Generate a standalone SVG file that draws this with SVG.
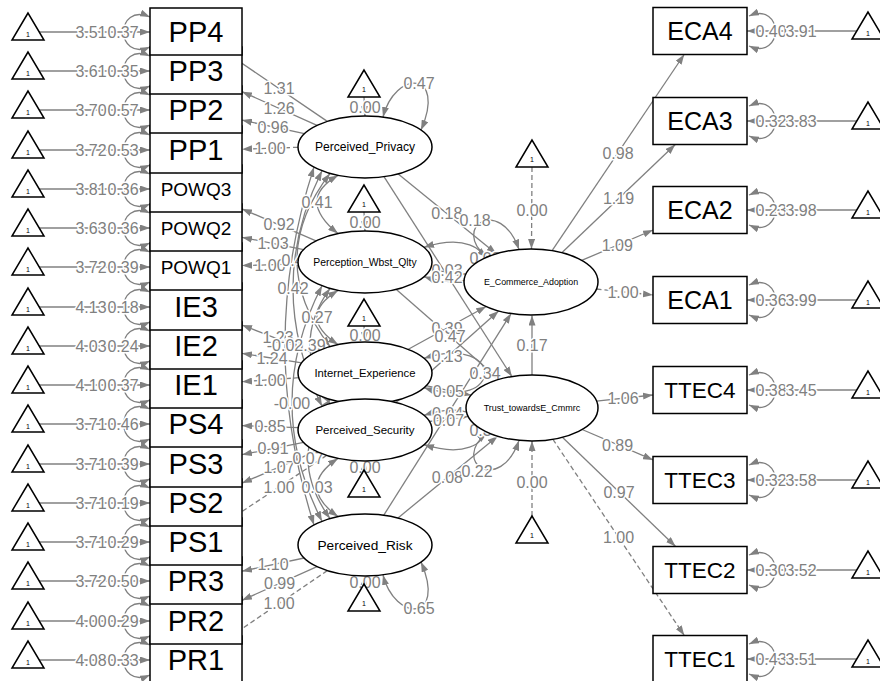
<svg xmlns="http://www.w3.org/2000/svg" xmlns:xlink="http://www.w3.org/1999/xlink" width="880" height="681" viewBox="0 0 880 681">
<style>
.e{fill:none;stroke:#808080;stroke-width:1.3}
.a{marker-end:url(#ah)}
.b2{marker-start:url(#ah);marker-end:url(#ah)}
.d{stroke-dasharray:5,3}
.l{font-family:"Liberation Sans",Arial,sans-serif;font-size:16px;fill:#808080;text-anchor:middle;dominant-baseline:central;paint-order:stroke;stroke:#fff;stroke-width:3px;stroke-linejoin:round}
.box{fill:#fff;stroke:#000;stroke-width:1.5}
.tri{fill:#fff;stroke:#000;stroke-width:1.5}
.t{font-family:"Liberation Sans",Arial,sans-serif;fill:#000;text-anchor:middle;dominant-baseline:central}
.one{font-family:"Liberation Sans",Arial,sans-serif;font-size:7px;fill:#000;text-anchor:middle;dominant-baseline:central}
.big{font-size:29px}.med{font-size:19px}.eca{font-size:25px}.tt{font-size:22.5px}
</style>
<defs>
<marker id="ah" viewBox="0 0 10 7" refX="10" refY="3.5" markerWidth="10" markerHeight="7" markerUnits="userSpaceOnUse" orient="auto-start-reverse"><path d="M0,0L10,3.5L0,7z" fill="#808080"/></marker>
<g id="triL"><polygon class="tri" points="28,-19 12,8 44,8"/><text class="one" x="28" y="2">1</text></g>
<g id="triR"><polygon class="tri" points="868,-19 852,8 884,8"/><text class="one" x="868" y="2">1</text></g>
<g id="triM"><polygon class="tri" points="0,0 -16,27 16,27"/><text class="one" x="0" y="19">1</text></g>
<g id="mvL"><path class="e a" d="M39,0H150"/><path class="e b2" d="M150,-15C115,-30 115,30 150,15"/></g>
<g id="mvR"><path class="e a" d="M857,0H747"/><path class="e b2" d="M749,-15C784,-30 784,30 749,15"/></g>
</defs>

<g id="connectors">
<use href="#mvL" y="32"/><use href="#mvL" y="71"/><use href="#mvL" y="110"/><use href="#mvL" y="150"/>
<use href="#mvL" y="189"/><use href="#mvL" y="228"/><use href="#mvL" y="267"/><use href="#mvL" y="307"/>
<use href="#mvL" y="346"/><use href="#mvL" y="385"/><use href="#mvL" y="424"/><use href="#mvL" y="464"/>
<use href="#mvL" y="503"/><use href="#mvL" y="542"/><use href="#mvL" y="581"/><use href="#mvL" y="621"/>
<use href="#mvL" y="660"/>
<use href="#mvR" y="31"/><use href="#mvR" y="121"/><use href="#mvR" y="210"/><use href="#mvR" y="300"/>
<use href="#mvR" y="390"/><use href="#mvR" y="480"/><use href="#mvR" y="570"/><use href="#mvR" y="659"/>

<path class="e a" d="M327.3,121.4L230.5,55.5"/>
<path class="e a" d="M317,125.4L242,91.7"/>
<path class="e a" d="M304.4,133.7L242,120.1"/>
<path class="e a d" d="M298,147.3L242,149.2"/>
<path class="e a" d="M316,240.8L242,208.9"/>
<path class="e a" d="M303.6,249.6L242,237.3"/>
<path class="e a d" d="M298.1,264L242,265.6"/>
<path class="e a" d="M313.8,353L242,325"/>
<path class="e a" d="M301.7,362.9L242,353.3"/>
<path class="e a d" d="M298.8,377.7L242,381.7"/>
<path class="e a" d="M298.1,427.6L242,425.6"/>
<path class="e a" d="M303.6,442.4L242,454.7"/>
<path class="e a" d="M316,451.2L242,483.1"/>
<path class="e a d" d="M326.6,455.4L231.5,518.5"/>
<path class="e a" d="M304.1,558L242,571.2"/>
<path class="e a" d="M317,566.6L242,600.3"/>
<path class="e a d" d="M327.3,570.6L230.5,636.5"/>

<path class="e a" d="M552.1,250.7L684.2,54.5"/>
<path class="e a" d="M561.8,252.7L675.3,144.5"/>
<path class="e a" d="M581.7,260.4L653,230"/>
<path class="e a d" d="M596.5,289L653,295"/>
<path class="e a" d="M596.5,401.1L653,395"/>
<path class="e a" d="M582.1,429.5L653,459.9"/>
<path class="e a" d="M562.4,437.3L675.6,546.5"/>
<path class="e a d" d="M552.9,439.3L684.3,635.5"/>

<path class="e a" d="M397.3,173.3L496.3,253.8"/>
<path class="e a" d="M383.5,175.8L511.9,376.6"/>
<path class="e a" d="M429.7,269.8L465.9,274.2"/>
<path class="e a" d="M395.5,288.7L499.2,379.4"/>
<path class="e a" d="M407.4,349.8L486.2,306.5"/>
<path class="e a" d="M425.7,385.7L471.1,395.2"/>
<path class="e a" d="M395.1,403.2L498.6,310.9"/>
<path class="e a" d="M429.3,421.5L468.2,416.4"/>
<path class="e a" d="M383.2,516.1L511.1,313.5"/>
<path class="e a" d="M397.1,518.7L497.6,436.2"/>
<path class="e a" d="M532,375L532,315.5"/>

<path class="e a d" d="M364,97L365,116"/>
<path class="e a d" d="M364,212L365,231"/>
<path class="e a d" d="M364,326L365,342"/>
<path class="e a d" d="M364,470L365,461"/>
<path class="e a d" d="M364,584L365,576"/>
<path class="e a d" d="M532,167L531.5,249"/>
<path class="e a d" d="M532,516L532,441"/>

<path class="e b2" d="M383,117C395,70 447,70 421,130"/>
<path class="e b2" d="M383,575C395,622 447,622 421,562"/>
<path class="e b2" d="M424,247.3C505,222 505,302 424,276.7"/>
<path class="e b2" d="M424,358.3C505,333 505,413 424,387.7"/>
<path class="e b2" d="M424,415.3C505,390 505,470 424,444.7"/>
<path class="e b2" d="M487,257C450,228 500,195 519,249.5"/>
<path class="e b2" d="M487,433C450,462 500,495 519,440.5"/>

<path class="e b2" d="M338,175.4Q296,199.5 338,233.6"/>
<path class="e b2" d="M338,290.4Q296,316.5 338,344.6"/>
<path class="e b2" d="M338,458.4Q296,486.5 338,516.6"/>
<path class="e b2" d="M330,173.4Q264,260 330,346.6"/>
<path class="e b2" d="M330,288.4Q290,344 330,403.6"/>
<path class="e b2" d="M330,399.4Q286,457 330,518.6"/>
<path class="e b2" d="M322,170.8Q264,287.5 322,406.2"/>
<path class="e b2" d="M322,285.8Q262,402.5 322,521.2"/>
<path class="e b2" d="M314,167.1Q256,344 314,524.9"/>
</g>

<g id="edge-labels">
<text class="l" x="91" y="32">3.51</text><text class="l" x="123" y="32">0.37</text>
<text class="l" x="91" y="71">3.61</text><text class="l" x="123" y="71">0.35</text>
<text class="l" x="91" y="110">3.70</text><text class="l" x="123" y="110">0.57</text>
<text class="l" x="91" y="150">3.72</text><text class="l" x="123" y="150">0.53</text>
<text class="l" x="91" y="189">3.81</text><text class="l" x="123" y="189">0.36</text>
<text class="l" x="91" y="228">3.63</text><text class="l" x="123" y="228">0.36</text>
<text class="l" x="91" y="267">3.72</text><text class="l" x="123" y="267">0.39</text>
<text class="l" x="91" y="307">4.13</text><text class="l" x="123" y="307">0.18</text>
<text class="l" x="91" y="346">4.03</text><text class="l" x="123" y="346">0.24</text>
<text class="l" x="91" y="385">4.10</text><text class="l" x="123" y="385">0.37</text>
<text class="l" x="91" y="424">3.71</text><text class="l" x="123" y="424">0.46</text>
<text class="l" x="91" y="464">3.71</text><text class="l" x="123" y="464">0.39</text>
<text class="l" x="91" y="503">3.71</text><text class="l" x="123" y="503">0.19</text>
<text class="l" x="91" y="542">3.71</text><text class="l" x="123" y="542">0.29</text>
<text class="l" x="91" y="581">3.72</text><text class="l" x="123" y="581">0.50</text>
<text class="l" x="91" y="621">4.00</text><text class="l" x="123" y="621">0.29</text>
<text class="l" x="91" y="660">4.08</text><text class="l" x="123" y="660">0.33</text>

<text class="l" x="771" y="31">0.40</text><text class="l" x="801" y="31">3.91</text>
<text class="l" x="771" y="121">0.32</text><text class="l" x="801" y="121">3.83</text>
<text class="l" x="771" y="210">0.23</text><text class="l" x="801" y="210">3.98</text>
<text class="l" x="771" y="300">0.36</text><text class="l" x="801" y="300">3.99</text>
<text class="l" x="771" y="390">0.38</text><text class="l" x="801" y="390">3.45</text>
<text class="l" x="771" y="480">0.32</text><text class="l" x="801" y="480">3.58</text>
<text class="l" x="771" y="570">0.30</text><text class="l" x="801" y="570">3.52</text>
<text class="l" x="771" y="659">0.43</text><text class="l" x="801" y="659">3.51</text>

<text class="l" x="279" y="88.5">1.31</text>
<text class="l" x="279" y="108.5">1.26</text>
<text class="l" x="273" y="127">0.96</text>
<text class="l" x="270" y="148">1.00</text>
<text class="l" x="279" y="224">0.92</text>
<text class="l" x="273" y="243.5">1.03</text>
<text class="l" x="270" y="265">1.00</text>
<text class="l" x="278" y="337">1.23</text>
<text class="l" x="272" y="358">1.24</text>
<text class="l" x="270" y="380">1.00</text>
<text class="l" x="270" y="426.6">0.85</text>
<text class="l" x="273" y="448.5">0.91</text>
<text class="l" x="279" y="467">1.07</text>
<text class="l" x="279" y="487">1.00</text>
<text class="l" x="273" y="564.6">1.10</text>
<text class="l" x="279.5" y="583.5">0.99</text>
<text class="l" x="279" y="603.6">1.00</text>

<text class="l" x="618" y="153">0.98</text>
<text class="l" x="618.5" y="198.6">1.19</text>
<text class="l" x="617.3" y="245.2">1.09</text>
<text class="l" x="623" y="292">1.00</text>
<text class="l" x="623" y="398">1.06</text>
<text class="l" x="617.5" y="445">0.89</text>
<text class="l" x="619" y="492">0.97</text>
<text class="l" x="618.6" y="537.4">1.00</text>

<text class="l" x="446.8" y="213.5">0.18</text>
<text class="l" x="447" y="270">0.03</text>
<text class="l" x="447" y="277">0.42</text>
<text class="l" x="447" y="328">0.39</text>
<text class="l" x="450" y="336">0.47</text>
<text class="l" x="448.4" y="391">0.05</text>
<text class="l" x="447" y="356">0.13</text>
<text class="l" x="447.5" y="413">0.04</text>
<text class="l" x="448.5" y="420">0.07</text>
<text class="l" x="447.4" y="477.5">0.08</text>
<text class="l" x="532" y="345">0.17</text>

<text class="l" x="365" y="107">0.00</text>
<text class="l" x="365" y="222">0.00</text>
<text class="l" x="365" y="335">0.00</text>
<text class="l" x="365" y="467">0.00</text>
<text class="l" x="365" y="582">0.00</text>
<text class="l" x="532" y="210">0.00</text>
<text class="l" x="532" y="482">0.00</text>

<text class="l" x="419" y="83">0.47</text>
<text class="l" x="419" y="608">0.65</text>
<text class="l" x="485" y="258">0.03</text>
<text class="l" x="485" y="373">0.34</text>
<text class="l" x="485" y="430">0.35</text>
<text class="l" x="475" y="220">0.18</text>
<text class="l" x="477" y="471">0.22</text>

<text class="l" x="317" y="202">0.41</text>
<text class="l" x="317" y="317">0.27</text>
<text class="l" x="317" y="487">0.03</text>
<text class="l" x="297" y="260">0.47</text>
<text class="l" x="310" y="345">0.39</text>
<text class="l" x="308" y="458">0.07</text>
<text class="l" x="293" y="288">0.42</text>
<text class="l" x="292" y="403">-0.00</text>
<text class="l" x="285" y="345">-0.02</text>
</g>

<g id="mean-triangles">
<g id="m_PP4"><use href="#triL" y="32"/></g><g id="m_PP3"><use href="#triL" y="71"/></g>
<g id="m_PP2"><use href="#triL" y="110"/></g><g id="m_PP1"><use href="#triL" y="150"/></g>
<g id="m_POWQ3"><use href="#triL" y="189"/></g><g id="m_POWQ2"><use href="#triL" y="228"/></g>
<g id="m_POWQ1"><use href="#triL" y="267"/></g><g id="m_IE3"><use href="#triL" y="307"/></g>
<g id="m_IE2"><use href="#triL" y="346"/></g><g id="m_IE1"><use href="#triL" y="385"/></g>
<g id="m_PS4"><use href="#triL" y="424"/></g><g id="m_PS3"><use href="#triL" y="464"/></g>
<g id="m_PS2"><use href="#triL" y="503"/></g><g id="m_PS1"><use href="#triL" y="542"/></g>
<g id="m_PR3"><use href="#triL" y="581"/></g><g id="m_PR2"><use href="#triL" y="621"/></g>
<g id="m_PR1"><use href="#triL" y="660"/></g>
<g id="m_ECA4"><use href="#triR" y="31"/></g><g id="m_ECA3"><use href="#triR" y="121"/></g>
<g id="m_ECA2"><use href="#triR" y="210"/></g><g id="m_ECA1"><use href="#triR" y="300"/></g>
<g id="m_TTEC4"><use href="#triR" y="390"/></g><g id="m_TTEC3"><use href="#triR" y="480"/></g>
<g id="m_TTEC2"><use href="#triR" y="570"/></g><g id="m_TTEC1"><use href="#triR" y="659"/></g>
<g id="m_PP"><use href="#triM" x="364" y="70"/></g>
<g id="m_PWQ"><use href="#triM" x="364" y="185"/></g>
<g id="m_IE"><use href="#triM" x="364" y="299"/></g>
<g id="m_PS"><use href="#triM" x="364" y="470"/></g>
<g id="m_PR"><use href="#triM" x="364" y="584"/></g>
<g id="m_ECA"><use href="#triM" x="532" y="140"/></g>
<g id="m_TT"><use href="#triM" x="532" y="516"/></g>
</g>

<g id="indicators-left">
<g id="PR1"><rect class="box" x="150" y="636" width="92" height="47"/><text class="t big" x="196" y="660">PR1</text></g>
<g id="PR2"><rect class="box" x="150" y="597" width="92" height="47"/><text class="t big" x="196" y="621">PR2</text></g>
<g id="PR3"><rect class="box" x="150" y="557" width="92" height="47"/><text class="t big" x="196" y="581">PR3</text></g>
<g id="PS1"><rect class="box" x="150" y="518" width="92" height="47"/><text class="t big" x="196" y="542">PS1</text></g>
<g id="PS2"><rect class="box" x="150" y="479" width="92" height="47"/><text class="t big" x="196" y="503">PS2</text></g>
<g id="PS3"><rect class="box" x="150" y="440" width="92" height="47"/><text class="t big" x="196" y="464">PS3</text></g>
<g id="PS4"><rect class="box" x="150" y="400" width="92" height="47"/><text class="t big" x="196" y="424">PS4</text></g>
<g id="IE1"><rect class="box" x="150" y="361" width="92" height="47"/><text class="t big" x="196" y="385">IE1</text></g>
<g id="IE2"><rect class="box" x="150" y="322" width="92" height="47"/><text class="t big" x="196" y="346">IE2</text></g>
<g id="IE3"><rect class="box" x="150" y="283" width="92" height="47"/><text class="t big" x="196" y="307">IE3</text></g>
<g id="POWQ1"><rect class="box" x="150" y="243" width="92" height="47"/><text class="t med" x="196" y="267">POWQ1</text></g>
<g id="POWQ2"><rect class="box" x="150" y="204" width="92" height="47"/><text class="t med" x="196" y="228">POWQ2</text></g>
<g id="POWQ3"><rect class="box" x="150" y="165" width="92" height="47"/><text class="t med" x="196" y="189">POWQ3</text></g>
<g id="PP1"><rect class="box" x="150" y="126" width="92" height="47"/><text class="t big" x="196" y="150">PP1</text></g>
<g id="PP2"><rect class="box" x="150" y="86" width="92" height="47"/><text class="t big" x="196" y="110">PP2</text></g>
<g id="PP3"><rect class="box" x="150" y="47" width="92" height="47"/><text class="t big" x="196" y="71">PP3</text></g>
<g id="PP4"><rect class="box" x="150" y="8" width="92" height="47"/><text class="t big" x="196" y="32">PP4</text></g>
</g>

<g id="indicators-right">
<g id="ECA4"><rect class="box" x="653" y="7.5" width="94" height="47"/><text class="t eca" x="700" y="31">ECA4</text></g>
<g id="ECA3"><rect class="box" x="653" y="97.5" width="94" height="47"/><text class="t eca" x="700" y="121">ECA3</text></g>
<g id="ECA2"><rect class="box" x="653" y="186.5" width="94" height="47"/><text class="t eca" x="700" y="210">ECA2</text></g>
<g id="ECA1"><rect class="box" x="653" y="276.5" width="94" height="47"/><text class="t eca" x="700" y="300">ECA1</text></g>
<g id="TTEC4"><rect class="box" x="653" y="366.5" width="94" height="47"/><text class="t tt" x="700" y="390">TTEC4</text></g>
<g id="TTEC3"><rect class="box" x="653" y="456.5" width="94" height="47"/><text class="t tt" x="700" y="480">TTEC3</text></g>
<g id="TTEC2"><rect class="box" x="653" y="546.5" width="94" height="47"/><text class="t tt" x="700" y="570">TTEC2</text></g>
<g id="TTEC1"><rect class="box" x="653" y="635.5" width="94" height="47"/><text class="t tt" x="700" y="659">TTEC1</text></g>
</g>

<g id="latents">
<g id="Perceived_Privacy"><ellipse class="box" cx="365" cy="147" rx="67" ry="31"/><text class="t" style="font-size:12.1px" x="365" y="147">Perceived_Privacy</text></g>
<g id="Perception_Wbst_Qlty"><ellipse class="box" cx="365" cy="262" rx="67" ry="31"/><text class="t" style="font-size:10.4px" x="365" y="262">Perception_Wbst_Qlty</text></g>
<g id="Internet_Experience"><ellipse class="box" cx="365" cy="373" rx="67" ry="31"/><text class="t" style="font-size:11.3px" x="365" y="373">Internet_Experience</text></g>
<g id="Perceived_Security"><ellipse class="box" cx="365" cy="430" rx="67" ry="31"/><text class="t" style="font-size:11.5px" x="365" y="430">Perceived_Security</text></g>
<g id="Perceived_Risk"><ellipse class="box" cx="365" cy="545" rx="67" ry="31"/><text class="t" style="font-size:13.7px" x="365" y="545">Perceived_Risk</text></g>
<g id="E_Commerce_Adoption"><ellipse class="box" cx="531" cy="282" rx="67" ry="33"/><text class="t" style="font-size:8.9px" x="531" y="282">E_Commerce_Adoption</text></g>
<g id="Trust_towardsE_Cmmrc"><ellipse class="box" cx="532" cy="408" rx="66" ry="33"/><text class="t" style="font-size:9px" x="532" y="408">Trust_towardsE_Cmmrc</text></g>
</g>
</svg>
